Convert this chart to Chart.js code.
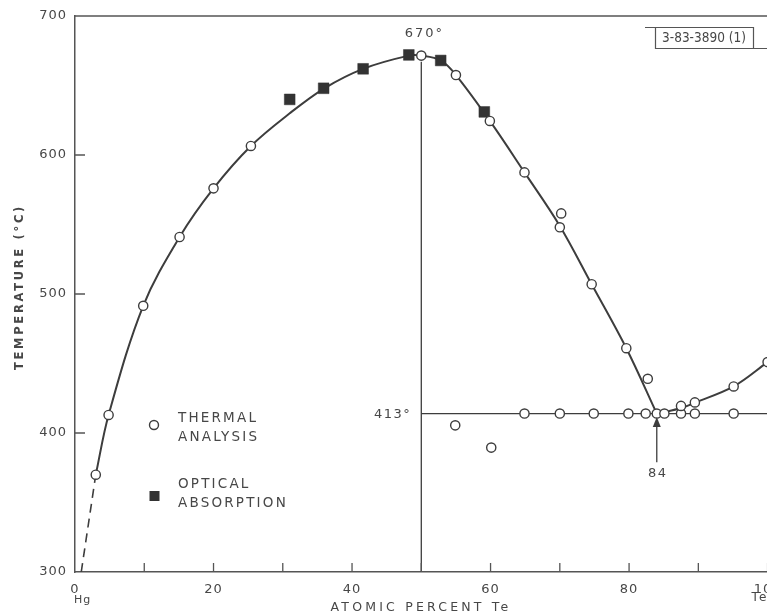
<!DOCTYPE html>
<html><head><meta charset="utf-8">
<script src="https://cdn.jsdelivr.net/npm/chart.js@4.4.1/dist/chart.umd.min.js"></script>
<style>
html,body{margin:0;padding:0;background:#fff;overflow:hidden;width:767px;height:616px;}
#wrap{position:relative;width:790px;height:616px;}
canvas{display:block;}
</style></head><body>
<div id="wrap"><canvas id="c" width="790" height="616"></canvas></div>
<script>
// ---- data ----
const xTicks = [0,10,20,30,40,50,60,70,80,90,100];
const xTickLabels = ['0','','20','','40','','60','','80','','100'];
const yTicks = [300,400,500,600,700];

// thermal analysis (open circles)
const thermalX = [3.0,4.85,9.85,15.1,20,25.4,50,55,59.9,64.9,70.2,70,74.6,79.6,82.7,
                  64.9,70,74.9,79.9,82.4,84,85.1,87.5,89.5,95.1,
                  87.5,89.5,95.1,100,
                  54.9,60.1];
const thermalT = [370,413,491.5,541,576,606.5,671.5,657.5,624.5,587.5,558,548,507,461,439,
                  414,414,414,414,414,414,414,414,414,414,
                  419.5,422,433.5,451,
                  405.5,389.5];

// optical absorption (filled squares)
const opticalX = [31,35.9,41.6,48.2,52.8,59.1];
const opticalT = [640,648,662,672,668,631];

// liquidus curve, Hg-rich side through the 670° maximum to the 84% eutectic
const liqX = [3,4.85,9.85,15.1,20,25.4,31,36,41.6,48.2,50,52.8,55,59.9,64.9,70,74.6,79.6,84];
const liqT = [370,413,491.5,541,576,606.5,630,648,662,671.5,671.5,668,657.5,624.5,587.5,549,507,461,414];
// liquidus, Te-rich side
const liqTeX = [84,85.1,87.5,89.5,95.1,100];
const liqTeT = [414,415,418,421.8,433.5,451];
// extrapolated (dashed) part near Hg
const dashX = [0.9,3];
const dashT = [300,370];
// eutectic horizontal and congruent composition vertical
const eutX = [50,100];
const eutT = [414,414];
const congX = [50,50];
const congT = [300,667];

const zip = (xs, ys) => xs.map((v,i)=>({x:v, y:ys[i]}));
const INK = '#3d3d3d';
const TXT = '#474747';
const FONT = '"DejaVu Sans", sans-serif';

function txt(ctx, s, x, y, size, align, spacing, weight){
  ctx.save();
  ctx.font = (weight||'normal') + ' ' + size + 'px ' + FONT;
  ctx.letterSpacing = (spacing||0) + 'px';
  ctx.fillStyle = TXT;
  ctx.textAlign = align || 'left';
  ctx.textBaseline = 'middle';
  ctx.fillText(s, x, y);
  ctx.restore();
}

const overlay = {
  id: 'overlay',
  beforeDraw(chart){ chart.ctx.letterSpacing = '1px'; },
  afterDraw(chart){
    const {ctx, chartArea:a, scales:{x, y}} = chart;
    ctx.save();
    ctx.strokeStyle = '#555';
    ctx.lineWidth = 1.5;
    // top frame line
    ctx.beginPath(); ctx.moveTo(a.left, a.top); ctx.lineTo(chart.width, a.top); ctx.stroke();
    // inward ticks
    ctx.lineWidth = 1.3;
    ctx.beginPath();
    xTicks.forEach(v => { if (v === 0) return; const px = x.getPixelForValue(v); ctx.moveTo(px, a.bottom); ctx.lineTo(px, a.bottom - 9); });
    yTicks.forEach(v => { if (v === 300 || v === 700) return; const py = y.getPixelForValue(v); ctx.moveTo(a.left, py); ctx.lineTo(a.left + 10, py); });
    ctx.stroke();

    // arrow at eutectic composition
    const ax = x.getPixelForValue(84);
    const tip = y.getPixelForValue(411.5), base = y.getPixelForValue(404.3), tail = y.getPixelForValue(379);
    ctx.strokeStyle = INK; ctx.fillStyle = INK; ctx.lineWidth = 1.3;
    ctx.beginPath(); ctx.moveTo(ax, tail); ctx.lineTo(ax, base); ctx.stroke();
    ctx.beginPath(); ctx.moveTo(ax, tip); ctx.lineTo(ax - 4, base); ctx.lineTo(ax + 4, base); ctx.closePath(); ctx.fill();

    // drawing number box
    ctx.strokeStyle = '#555'; ctx.lineWidth = 1.2;
    ctx.beginPath();
    ctx.moveTo(645, 27.5); ctx.lineTo(753.5, 27.5); ctx.lineTo(753.5, 48);
    ctx.moveTo(655.5, 27.5); ctx.lineTo(655.5, 48.5); ctx.lineTo(chart.width, 48.5);
    ctx.stroke();
    ctx.restore();

    ctx.save();
    ctx.font = '13.5px "Liberation Sans Narrow", "DejaVu Sans Condensed", sans-serif';
    ctx.letterSpacing = '0px';
    ctx.fillStyle = TXT; ctx.textAlign = 'center'; ctx.textBaseline = 'middle';
    ctx.fillText('3-83-3890 (1)', 704, 38);
    ctx.restore();

    // annotations
    txt(ctx, '670°', x.getPixelForValue(50) + 3, y.getPixelForValue(687), 13, 'center', 2);
    txt(ctx, '413°', x.getPixelForValue(50) - 10, y.getPixelForValue(413), 13, 'right', 1.5);
    txt(ctx, '84', x.getPixelForValue(84) + 1, y.getPixelForValue(370.5), 13, 'center', 1.5);
    txt(ctx, 'Hg', a.left - 1, 600, 11, 'left', 1);
    txt(ctx, 'Te', x.getPixelForValue(100) - 16, 598, 12, 'left', 2);

    // axis titles
    txt(ctx, 'ATOMIC PERCENT Te', 421, 608, 12.5, 'center', 3.2);
    ctx.save();
    ctx.translate(20, 287);
    ctx.rotate(-Math.PI/2);
    txt(ctx, 'TEMPERATURE (°C)', 0, 0, 11.5, 'center', 2.7, 'bold');
    ctx.restore();

    // legend
    ctx.save();
    ctx.strokeStyle = INK; ctx.lineWidth = 1.4; ctx.fillStyle = '#fff';
    ctx.beginPath(); ctx.arc(154, 425, 4.5, 0, Math.PI*2); ctx.fill(); ctx.stroke();
    ctx.fillStyle = '#333';
    ctx.fillRect(149.5, 491, 10, 10);
    ctx.restore();
    txt(ctx, 'THERMAL', 178, 418, 13.5, 'left', 2.2);
    txt(ctx, 'ANALYSIS', 178, 437, 13.5, 'left', 2.2);
    txt(ctx, 'OPTICAL', 178, 484, 13.5, 'left', 2.2);
    txt(ctx, 'ABSORPTION', 178, 503, 13.5, 'left', 2.2);
  }
};

new Chart(document.getElementById('c'), {
  type: 'scatter',
  data: {
    datasets: [
      { label: 'Thermal analysis', data: zip(thermalX, thermalT), pointStyle: 'circle', pointRadius: 4.6,
        pointBackgroundColor: '#fff', pointBorderColor: INK, pointBorderWidth: 1.4, showLine: false, clip: false },
      { label: 'Optical absorption', data: zip(opticalX, opticalT), pointStyle: 'rect', pointRadius: 7.6,
        pointBackgroundColor: '#333', pointBorderColor: '#333', pointBorderWidth: 0.5, showLine: false, clip: false },
      { label: 'Liquidus', data: zip(liqX, liqT), showLine: true, pointRadius: 0, borderColor: INK, borderWidth: 2,
        tension: 0.35 },
      { label: 'Liquidus Te side', data: zip(liqTeX, liqTeT), showLine: true, pointRadius: 0, borderColor: INK, borderWidth: 2,
        tension: 0.35, clip: false },
      { label: 'Extrapolated', data: zip(dashX, dashT), showLine: true, pointRadius: 0, borderColor: INK, borderWidth: 1.6,
        borderDash: [9, 6] },
      { label: 'Eutectic', data: zip(eutX, eutT), showLine: true, pointRadius: 0, borderColor: INK, borderWidth: 1.3, clip: false },
      { label: 'Congruent', data: zip(congX, congT), showLine: true, pointRadius: 0, borderColor: INK, borderWidth: 1.3 }
    ]
  },
  options: {
    responsive: false,
    animation: false,
    events: [],
    layout: { padding: { top: 16, right: 21, left: 0, bottom: 0 } },
    plugins: { legend: { display: false }, tooltip: { enabled: false } },
    scales: {
      x: {
        type: 'linear', min: 0, max: 100,
        afterFit: s => { s.height = 44; },
        afterBuildTicks: s => { s.ticks = xTicks.map(v => ({value: v})); },
        grid: { display: false, drawTicks: false },
        border: { display: true, color: '#555', width: 1.5 },
        ticks: { autoSkip: false, maxRotation: 0, padding: 10, color: TXT,
                 font: { family: FONT, size: 13 },
                 callback: (v) => { const i = xTicks.indexOf(v); return i >= 0 ? xTickLabels[i] : ''; } }
      },
      y: {
        type: 'linear', min: 300, max: 700,
        afterFit: s => { s.width = 75; },
        afterBuildTicks: s => { s.ticks = yTicks.map(v => ({value: v})); },
        grid: { display: false, drawTicks: false },
        border: { display: true, color: '#555', width: 1.5 },
        ticks: { padding: 8, color: TXT, font: { family: FONT, size: 13 } }
      }
    }
  },
  plugins: [overlay]
});
</script>
</body></html>
